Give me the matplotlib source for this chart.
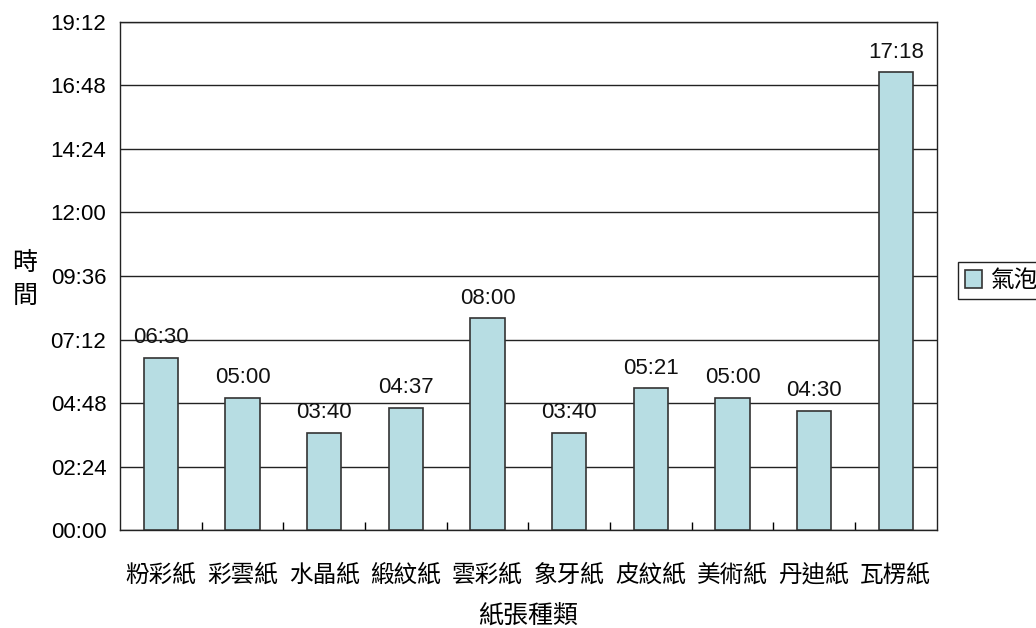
import numpy as np
import matplotlib.pyplot as plt
from matplotlib.ticker import FixedLocator, FuncFormatter

plt.rcParams['font.family'] = ['Liberation Sans', 'Noto Sans CJK TC', 'DejaVu Sans']

# paper types and bubble times (seconds)
papers = ["粉彩紙", "彩雲紙", "水晶紙", "緞紋紙", "雲彩紙", "象牙紙", "皮紋紙", "美術紙", "丹迪紙", "瓦楞紙"]
bubble_secs = [390, 300, 220, 277, 480, 220, 321, 300, 270, 1038]
y_ticks = [0, 144, 288, 432, 576, 720, 864, 1008, 1152]


def mmss(v, pos=None):
    v = int(round(v))
    return f"{v // 60:02d}:{v % 60:02d}"


fig = plt.figure(figsize=(10.36, 6.28), dpi=100)
ax = fig.add_axes([0.116, 0.156, 0.788, 0.809])

x = np.arange(len(papers))
bars = ax.bar(x, bubble_secs, width=0.42, color="#b7dde3", edgecolor="#333333",
              linewidth=1.2, zorder=3, label="氣泡")

for xi, v in zip(x, bubble_secs):
    ax.text(xi, v + 22, mmss(v), ha="center", va="bottom", fontsize=16, color="#111111")

ax.set_xlim(-0.5, len(papers) - 0.5)
ax.set_ylim(0, 1152)
ax.set_yticks(y_ticks)
ax.yaxis.set_major_formatter(FuncFormatter(mmss))
ax.grid(axis="y", color="#222222", linewidth=1.0, zorder=0)
ax.tick_params(axis="y", length=0, labelsize=16, pad=10)

ax.set_xticks(x)
ax.set_xticklabels(papers, fontsize=17, family=['Noto Sans CJK TC'])
ax.xaxis.set_minor_locator(FixedLocator(np.arange(0.5, len(papers) - 1, 1.0)))
ax.tick_params(axis="x", which="major", length=0, pad=24)
ax.tick_params(axis="x", which="minor", direction="in", length=6, width=1)

for s in ax.spines.values():
    s.set_color("#222222")
    s.set_linewidth(1.0)

ax.set_xlabel("紙張種類", fontsize=18, family=['Noto Sans CJK TC'], labelpad=12)
fig.text(0.024, 0.555, "時\n間", fontsize=18, family=['Noto Sans CJK TC'],
         ha="center", va="center", linespacing=1.35)

leg = fig.legend(handles=[bars], labels=["氣泡"], loc="center left",
                 bbox_to_anchor=(0.913, 0.553), handlelength=0.75,
                 handleheight=0.75, handletextpad=0.3, borderpad=0.3,
                 fancybox=False, framealpha=1, edgecolor="#222222",
                 prop={'family': ['Noto Sans CJK TC'], 'size': 17})

fig.savefig("out.png", dpi=100, facecolor="white")
